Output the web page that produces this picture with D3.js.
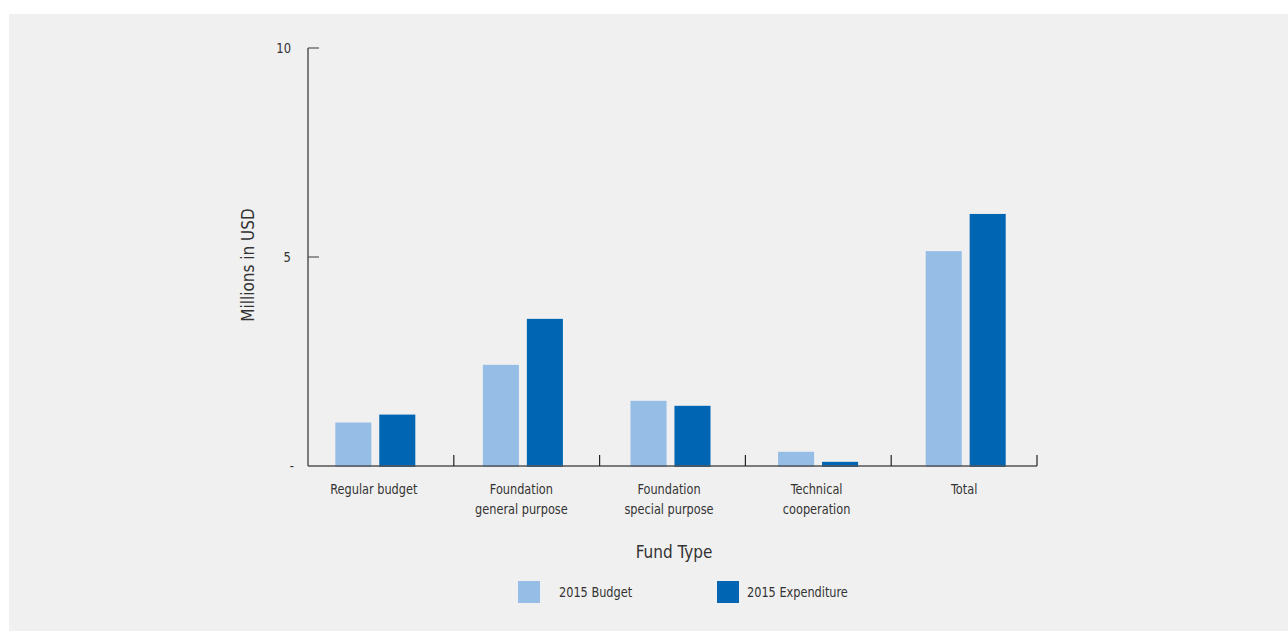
<!DOCTYPE html>
<html><head><meta charset="utf-8">
<script src="https://cdn.jsdelivr.net/npm/d3@7"></script>
<style>
html,body{margin:0;padding:0;background:#fff;}
text{font-family:"DejaVu Sans Condensed","Roboto",sans-serif;fill:#333;}
</style></head>
<body>
<svg id="chart" width="1288" height="631"></svg>
<script>
const categories = [["Regular budget"],["Foundation","general purpose"],["Foundation","special purpose"],["Technical","cooperation"],["Total"]];
const seriesNames = ["2015 Budget","2015 Expenditure"];
const budget = [1.04, 2.42, 1.56, 0.34, 5.14];
const expenditure = [1.23, 3.52, 1.44, 0.10, 6.03];
const yTicks = [0, 5, 10];
const yTickLabels = ["-", "5", "10"];
const colors = ["#95bde5", "#0066b3"];

const svg = d3.select("#chart");
svg.append("rect").attr("x",9).attr("y",14).attr("width",1279).attr("height",617).attr("fill","#f0f0f0");

const y = d3.scaleLinear().domain([0,10]).range([466,48]);
const idx = categories.map((d,i)=>i);
const xAxisScale = d3.scaleBand().domain(idx).range([308,1037]);
const xBars = d3.scaleBand().domain(idx).range([301.5,1039.5]);
const xInner = d3.scaleBand().domain([0,1]).range([-40,40]).paddingInner(0.18);

function narrowText(x, yy, anchor, size, sx){
  return svg.append("text").attr("transform",`translate(${x},${yy}) scale(${sx},1)`)
    .attr("text-anchor",anchor).attr("font-size",size);
}

// bars
const data = idx.map(i=>({i, vals:[budget[i], expenditure[i]]}));
const g = svg.append("g");
data.forEach(d=>{
  d.vals.forEach((v,s)=>{
    g.append("rect")
      .attr("x", xBars(d.i)+xBars.bandwidth()/2 + xInner(s))
      .attr("width", xInner.bandwidth())
      .attr("y", y(v))
      .attr("height", y(0)-y(v)+1)
      .attr("fill", colors[s]);
  });
});

// axes
const axisColor = "#555";
svg.append("line").attr("x1",308).attr("x2",308).attr("y1",y(10)).attr("y2",y(0)).attr("stroke",axisColor).attr("stroke-width",1.5);
svg.append("line").attr("x1",308).attr("x2",1037).attr("y1",y(0)).attr("y2",y(0)).attr("stroke",axisColor).attr("stroke-width",1.5);
yTicks.forEach((t,k)=>{
  if(t>0) svg.append("line").attr("x1",308).attr("x2",319).attr("y1",y(t)).attr("y2",y(t)).attr("stroke",axisColor).attr("stroke-width",1.2);
  narrowText(t===0?294:291, y(t)+5, "end", 14, 0.92).text(yTickLabels[k]);
});
// category boundary ticks
idx.forEach(i=>{
  const xb = xAxisScale(i)+xAxisScale.bandwidth();
  svg.append("line").attr("x1",xb).attr("x2",xb).attr("y1",y(0)).attr("y2",y(0)-11).attr("stroke","#222").attr("stroke-width",1.2);
});
// category labels
idx.forEach(i=>{
  const cx = xBars(i)+xBars.bandwidth()/2 - 1.5;
  categories[i].forEach((line,j)=>{
    narrowText(cx, 494+j*20, "middle", 14, 0.9).text(line);
  });
});

// axis titles
svg.append("text").attr("x",674).attr("y",558).attr("text-anchor","middle").attr("font-size",17).text("Fund Type");
svg.append("text").attr("transform","translate(254,265) rotate(-90)").attr("text-anchor","middle").attr("font-size",17).text("Millions in USD");

// legend
const legX = [518, 717];
seriesNames.forEach((n,s)=>{
  svg.append("rect").attr("x",legX[s]).attr("y",581).attr("width",22).attr("height",22).attr("fill",colors[s]);
  narrowText(legX[s]+(s===0?41:30), 597, "start", 14, 0.9).text(n);
});
</script>
</body></html>
